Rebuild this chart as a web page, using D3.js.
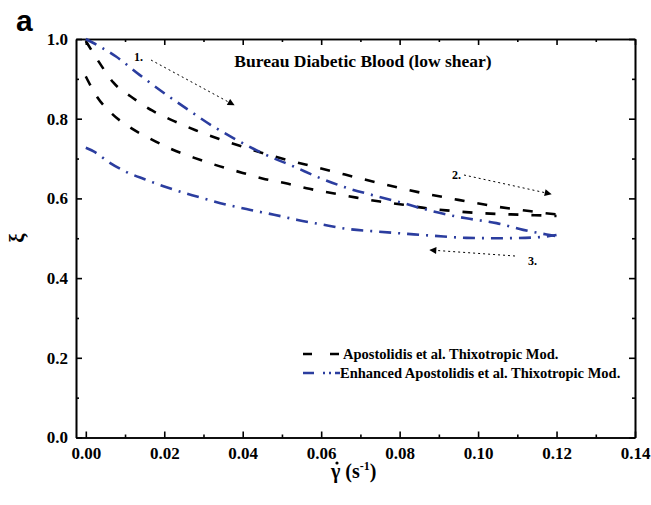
<!DOCTYPE html>
<html>
<head>
<meta charset="utf-8">
<script src="https://d3js.org/d3.v7.min.js"></script>
<style>
  body { margin: 0; background: #fff; }
  text { font-family: "Liberation Serif", "Times New Roman", Times, serif; font-weight: bold; }
  .axis path, .axis line { stroke: #000; stroke-width: 1.6; }
  .axis text { font-size: 17px; fill: #000; }
</style>
</head>
<body>
<svg width="651" height="505"></svg>
<script>
// tick labels
var xTicks = [0.00, 0.02, 0.04, 0.06, 0.08, 0.10, 0.12, 0.14];
var yTicks = [0.0, 0.2, 0.4, 0.6, 0.8, 1.0];
var xMinor = [0.01, 0.03, 0.05, 0.07, 0.09, 0.11, 0.13];
var yMinor = [0.1, 0.3, 0.5, 0.7, 0.9];

// Apostolidis et al. thixotropic model (black dashed), loading and unloading branch
var blackUpX = [0, 0.0035, 0.007, 0.012, 0.017, 0.0225, 0.028, 0.034, 0.040, 0.046, 0.052, 0.058, 0.064, 0.070, 0.075, 0.081, 0.087, 0.093, 0.099, 0.105, 0.111, 0.117, 0.120];
var blackUpY = [0.995, 0.94, 0.891, 0.852, 0.820, 0.794, 0.771, 0.749, 0.730, 0.711, 0.695, 0.680, 0.665, 0.650, 0.638, 0.624, 0.611, 0.600, 0.589, 0.579, 0.571, 0.563, 0.560];
var blackDownX = [0, 0.0026, 0.0067, 0.0113, 0.0164, 0.0222, 0.0273, 0.034, 0.040, 0.045, 0.051, 0.057, 0.063, 0.069, 0.075, 0.081, 0.087, 0.093, 0.099, 0.105, 0.111, 0.117, 0.120];
var blackDownY = [0.906, 0.859, 0.812, 0.778, 0.750, 0.722, 0.703, 0.681, 0.664, 0.650, 0.638, 0.624, 0.613, 0.602, 0.592, 0.584, 0.575, 0.569, 0.564, 0.561, 0.559, 0.557, 0.556];

// Enhanced model (blue dash-dot)
var blueUpX = [0, 0.0077, 0.0137, 0.020, 0.026, 0.0324, 0.0375, 0.046, 0.053, 0.060, 0.067, 0.074, 0.081, 0.0886, 0.097, 0.1047, 0.1115, 0.1183, 0.120];
var blueUpY = [1.0, 0.956, 0.910, 0.864, 0.823, 0.781, 0.752, 0.709, 0.680, 0.650, 0.625, 0.606, 0.588, 0.567, 0.550, 0.538, 0.521, 0.508, 0.505];
var blueDownX = [0, 0.002, 0.006, 0.010, 0.015, 0.020, 0.025, 0.030, 0.036, 0.042, 0.048, 0.054, 0.060, 0.067, 0.074, 0.082, 0.089, 0.097, 0.105, 0.112, 0.116, 0.120];
var blueDownY = [0.727, 0.718, 0.690, 0.668, 0.648, 0.630, 0.614, 0.600, 0.584, 0.571, 0.559, 0.546, 0.535, 0.523, 0.517, 0.511, 0.506, 0.501, 0.500, 0.501, 0.503, 0.508];

var legendLabels = ["Apostolidis et al. Thixotropic Mod.", "Enhanced Apostolidis et al. Thixotropic Mod."];

var L = 76, R = 635, T = 39, B = 437.5;
var blue = "#2b3d9f";

var svg = d3.select("svg");
var x = d3.scaleLinear().domain([-0.0025, 0.14]).range([L, R]);
var y = d3.scaleLinear().domain([0, 1.0]).range([B, T]);

// axes, ticks pointing inward on all four sides
svg.append("g").attr("class", "axis").attr("transform", "translate(0," + B + ")")
  .call(d3.axisBottom(x).tickValues(xTicks).tickFormat(d3.format(".2f")).tickSizeInner(-6).tickSizeOuter(0).tickPadding(9));
svg.append("g").attr("class", "axis").attr("transform", "translate(0," + B + ")")
  .call(d3.axisBottom(x).tickValues(xMinor).tickFormat("").tickSizeInner(-3).tickSizeOuter(0));
svg.append("g").attr("class", "axis").attr("transform", "translate(0," + T + ")")
  .call(d3.axisTop(x).tickValues(xTicks).tickFormat("").tickSizeInner(-6).tickSizeOuter(0));
svg.append("g").attr("class", "axis").attr("transform", "translate(0," + T + ")")
  .call(d3.axisTop(x).tickValues(xMinor).tickFormat("").tickSizeInner(-3).tickSizeOuter(0));

svg.append("g").attr("class", "axis").attr("transform", "translate(" + L + ",0)")
  .call(d3.axisLeft(y).tickValues(yTicks).tickFormat(d3.format(".1f")).tickSizeInner(-6).tickSizeOuter(0).tickPadding(8));
svg.append("g").attr("class", "axis").attr("transform", "translate(" + L + ",0)")
  .call(d3.axisLeft(y).tickValues(yMinor).tickFormat("").tickSizeInner(-3).tickSizeOuter(0));
svg.append("g").attr("class", "axis").attr("transform", "translate(" + R + ",0)")
  .call(d3.axisRight(y).tickValues(yTicks).tickFormat("").tickSizeInner(-6).tickSizeOuter(0));
svg.append("g").attr("class", "axis").attr("transform", "translate(" + R + ",0)")
  .call(d3.axisRight(y).tickValues(yMinor).tickFormat("").tickSizeInner(-3).tickSizeOuter(0));

// curves
var line = d3.line().x(function(d){return x(d[0]);}).y(function(d){return y(d[1]);}).curve(d3.curveMonotoneX);
function pairs(xs, ys) { return xs.map(function(v, i){ return [v, ys[i]]; }); }

var series = [
  {xs: blackUpX, ys: blackUpY, color: "#000", dash: "10,13"},
  {xs: blackDownX, ys: blackDownY, color: "#000", dash: "10,13"},
  {xs: blueUpX, ys: blueUpY, color: blue, dash: "12,7,2,7"},
  {xs: blueDownX, ys: blueDownY, color: blue, dash: "12,7,2,7"}
];
series.forEach(function(s){
  svg.append("path").datum(pairs(s.xs, s.ys))
    .attr("d", line).attr("fill", "none")
    .attr("stroke", s.color).attr("stroke-width", 2.6)
    .attr("stroke-dasharray", s.dash);
});

// arrow annotations
svg.append("defs").append("marker").attr("id", "ah")
  .attr("viewBox", "0 0 10 10").attr("refX", 9).attr("refY", 5)
  .attr("markerWidth", 9).attr("markerHeight", 7).attr("markerUnits", "userSpaceOnUse")
  .attr("orient", "auto")
  .append("path").attr("d", "M0,0 L10,5 L0,10 Z").attr("fill", "#000");

var arrows = [
  {x1: 151, y1: 60, x2: 234, y2: 105, label: "1.", lx: 134, ly: 61},
  {x1: 464, y1: 175, x2: 551, y2: 194, label: "2.", lx: 452, ly: 179},
  {x1: 515, y1: 256, x2: 430, y2: 250, label: "3.", lx: 528, ly: 265}
];
arrows.forEach(function(a){
  svg.append("line").attr("x1", a.x1).attr("y1", a.y1).attr("x2", a.x2).attr("y2", a.y2)
    .attr("stroke", "#000").attr("stroke-width", 1).attr("stroke-dasharray", "2,3")
    .attr("marker-end", "url(#ah)");
  svg.append("text").attr("x", a.lx).attr("y", a.ly).attr("font-size", 12).text(a.label);
});

// title
svg.append("text").attr("x", 363).attr("y", 67).attr("text-anchor", "middle")
  .attr("font-size", 17.5).text("Bureau Diabetic Blood (low shear)");

// legend
var leg = [
  {color: "#000", dash: "9,18", y: 354},
  {color: blue, dash: "11,9,2,4,2,4", y: 373}
];
leg.forEach(function(l, i){
  svg.append("line").attr("x1", 303).attr("x2", 340).attr("y1", l.y).attr("y2", l.y)
    .attr("stroke", l.color).attr("stroke-width", 2.6).attr("stroke-dasharray", l.dash);
  svg.append("text").attr("x", i === 0 ? 343 : 340).attr("y", l.y + 5)
    .attr("font-size", 14.5).text(legendLabels[i]);
});

// axis labels
svg.append("text").attr("transform", "translate(24,238) rotate(-90)")
  .attr("text-anchor", "middle").attr("font-size", 21).attr("font-weight", "normal").text("ξ");

var xl = svg.append("text").attr("x", 331).attr("y", 478).attr("font-size", 20);
xl.append("tspan").text("γ (s");
xl.append("tspan").attr("dy", -8).attr("font-size", 12).text("-1");
xl.append("tspan").attr("dy", 8).text(")");
// the dot over gamma (time derivative)
svg.append("circle").attr("cx", 337).attr("cy", 463).attr("r", 1.6).attr("fill", "#000");

// panel letter
svg.append("text").attr("x", 16).attr("y", 31).attr("font-size", 30)
  .style("font-family", "Liberation Sans, Arial, sans-serif").text("a");
</script>
</body>
</html>
